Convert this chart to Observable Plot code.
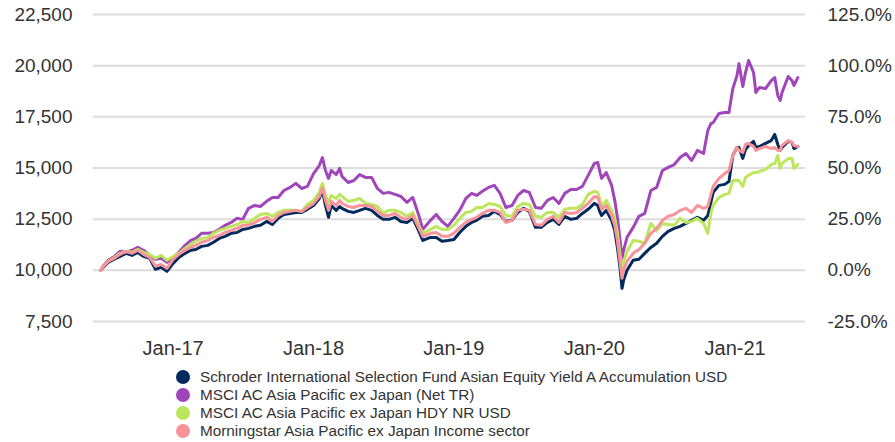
<!DOCTYPE html>
<html><head><meta charset="utf-8">
<script src="https://cdn.jsdelivr.net/npm/d3@7"></script>
<script src="https://cdn.jsdelivr.net/npm/@observablehq/plot@0.6"></script>
<style>
body{margin:0;background:#fff;font-family:"Liberation Sans",Arial,sans-serif;}
#legend{margin-left:176px;margin-top:6px;}
.item{display:flex;align-items:center;height:18px;font-size:15.3px;color:#333;white-space:nowrap;}
.sw{width:14px;height:14px;border-radius:50%;margin-right:10px;flex:none;}
</style></head><body>
<div id="chart"></div><div id="legend"></div>
<script>
const dates = [
"2016-06-27","2016-07-01","2016-07-16","2016-08-01","2016-08-16","2016-09-01","2016-09-16","2016-10-01","2016-10-16","2016-11-01",
"2016-11-16","2016-12-01","2016-12-16","2017-01-01","2017-01-16","2017-02-01","2017-02-16","2017-03-01","2017-03-16","2017-04-01",
"2017-04-16","2017-05-01","2017-05-16","2017-06-01","2017-06-16","2017-07-01","2017-07-16","2017-08-01","2017-08-16","2017-09-01",
"2017-09-16","2017-10-01","2017-10-16","2017-11-01","2017-11-16","2017-12-01","2017-12-16","2018-01-01","2018-01-16","2018-01-24",
"2018-02-01","2018-02-09","2018-02-16","2018-03-01","2018-03-10","2018-03-16","2018-04-01","2018-04-16","2018-05-01","2018-05-16",
"2018-06-01","2018-06-16","2018-07-01","2018-07-16","2018-08-01","2018-08-16","2018-09-01","2018-09-16","2018-10-01","2018-10-12",
"2018-11-01","2018-11-16","2018-12-01","2018-12-16","2019-01-01","2019-01-16","2019-02-01","2019-02-16","2019-03-01","2019-03-16",
"2019-04-01","2019-04-16","2019-05-01","2019-05-16","2019-06-01","2019-06-16","2019-07-01","2019-07-16","2019-08-01","2019-08-16",
"2019-09-01","2019-09-16","2019-10-01","2019-10-16","2019-11-01","2019-11-16","2019-12-01","2019-12-16","2020-01-01","2020-01-10",
"2020-01-16","2020-01-20","2020-02-01","2020-02-15","2020-02-23","2020-03-01","2020-03-08","2020-03-13","2020-03-17","2020-03-26",
"2020-04-11","2020-04-26","2020-05-11","2020-05-27","2020-06-11","2020-06-26","2020-07-11","2020-07-27","2020-08-11","2020-08-26",
"2020-09-10","2020-09-25","2020-10-11","2020-10-22","2020-10-30","2020-11-05","2020-11-20","2020-12-05","2020-12-16","2020-12-26",
"2021-01-06","2021-01-11","2021-01-21","2021-01-28","2021-02-05","2021-02-18","2021-02-24","2021-03-05","2021-03-21","2021-04-05",
"2021-04-14","2021-04-22","2021-04-28","2021-05-03","2021-05-19","2021-05-29","2021-06-03","2021-06-13"
];
const fund = [
10000,10100,10390,10540,10680,10830,10730,10880,10680,10590,
10050,10150,9950,10340,10630,10830,10980,11020,11170,11220,
11370,11560,11660,11810,11850,12000,12050,12150,12200,12390,
12240,12540,12730,12780,12830,12830,12980,13170,13510,13900,
13170,12590,13170,12930,13120,13030,12880,12830,12930,13030,
12930,12680,12490,12490,12590,12390,12340,12540,11950,11460,
11610,11610,11420,11460,11510,11850,12150,12340,12440,12640,
12680,12880,12730,12390,12440,12830,13030,12880,12100,12100,
12340,12490,12240,12640,12490,12540,12780,12980,13270,13170,
12830,12680,12930,12440,11950,11120,10100,9120,9510,10000,
10490,10540,10830,11120,11320,11660,11900,12050,12150,12290,
12440,12590,12440,12680,13320,13810,14150,14200,14340,15610,
16000,16000,15470,15900,16100,16300,16000,16050,16200,16340,
16640,16150,15860,16000,16300,16250,15950,16050
];
const msciNetTR = [
10000,10150,10490,10680,10930,10880,10980,11120,10980,10730,
10540,10590,10390,10630,10880,11220,11460,11560,11810,11810,
11850,12000,12200,12340,12540,12490,13030,13170,13120,13370,
13560,13560,13900,14050,14250,14000,14100,14730,15120,15510,
14880,14490,14880,14680,14980,14590,14290,14390,14680,14540,
14540,14000,13760,13810,13710,13610,13320,13560,12730,12000,
12440,12730,12390,12150,12540,12930,13510,13760,13660,13860,
14050,14150,13760,13070,13170,13660,13900,13810,13070,13030,
13420,13560,13270,13760,13950,13950,14100,14640,15220,15270,
14780,14490,14780,14150,13420,12590,11460,10590,10980,11610,
12100,12640,12780,13900,14050,14880,15030,15170,15510,15710,
15370,15860,15710,16830,17170,17220,17660,17710,17710,18880,
19520,20100,18980,19660,20250,19660,18690,18930,18880,19270,
19420,18540,18300,18690,19470,19270,19030,19420
];
const msciHdy = [
10000,10150,10440,10630,10830,10930,10880,11020,10880,10780,
10590,10730,10490,10680,10830,11070,11270,11420,11560,11610,
11810,11950,12050,12150,12240,12390,12340,12540,12730,12780,
12640,12830,12930,12930,12930,12880,13220,13420,13810,14250,
13660,13320,13660,13510,13710,13610,13370,13420,13510,13270,
13220,13120,12780,12930,12930,12830,12640,12830,12200,11810,
12000,12150,12000,12000,12200,12540,12830,12880,13070,13070,
13270,13220,13120,12680,12640,13120,13270,13220,12640,12590,
12830,12830,12590,12980,13030,13030,13220,13710,13860,13810,
13420,13120,13420,12930,12540,11850,10730,10100,10390,10930,
11460,11420,11320,12290,11950,12290,12240,12200,12540,12340,
12390,12540,12290,11810,12780,13170,13560,13710,13760,14390,
14390,14390,14100,14540,14640,14780,14780,14830,14930,15170,
15220,15610,14980,15220,15460,15460,14980,15170
];
const sector = [
10000,10150,10440,10590,10780,10930,10830,10980,10780,10630,
10200,10290,10100,10540,10780,10980,11120,11220,11370,11460,
11610,11710,11850,11950,12050,12200,12200,12340,12490,12590,
12390,12680,12830,12880,12930,12880,13070,13270,13610,14050,
13420,12930,13370,13170,13420,13270,13120,13070,13170,13170,
13120,12880,12680,12680,12780,12590,12490,12680,12100,11660,
11810,11850,11660,11660,11810,12100,12340,12490,12590,12780,
12930,12930,12830,12340,12440,12930,12980,12930,12240,12200,
12490,12640,12340,12830,12780,12830,13030,13270,13610,13560,
13220,12980,13170,12680,12200,11460,10390,9610,10000,10440,
10830,11020,11320,11810,12050,12440,12640,12730,12930,13030,
12830,13170,13030,13120,13710,14100,14490,14730,14880,15610,
16000,15860,15760,16150,16200,16050,15860,15950,16050,15950,
16000,15860,15860,16100,16340,16250,16100,16050
];
const seriesNames = [
"Schroder International Selection Fund Asian Equity Yield A Accumulation USD",
"MSCI AC Asia Pacific ex Japan (Net TR)",
"MSCI AC Asia Pacific ex Japan HDY NR USD",
"Morningstar Asia Pacific ex Japan Income sector"
];
const seriesColors = ["#032a5c","#a146ba","#bce65c","#f8939a"];
const yTicks = [7500,10000,12500,15000,17500,20000,22500];
const xTicks = ["2017-01-01","2018-01-01","2019-01-01","2020-01-01","2021-01-01"];

const allSeries = [fund, msciNetTR, msciHdy, sector];
const rows = [];
allSeries.forEach((arr, i) => {
  const n = Math.min(arr.length, dates.length);
  for (let j = 0; j < n; j++) rows.push({date: new Date(dates[j]), value: arr[j], series: seriesNames[i]});
});

const chart = Plot.plot({
  width: 895, height: 362,
  marginLeft: 93, marginRight: 90, marginTop: 14, marginBottom: 41,
  style: {fontFamily: "'Liberation Sans', Arial, sans-serif", fontSize: "19px", color: "#333", background: "#fff"},
  x: {type: "utc", domain: [new Date("2016-06-08"), new Date("2021-07-03")]},
  y: {domain: [7500, 22500]},
  color: {domain: seriesNames, range: seriesColors},
  marks: [
    Plot.gridY(yTicks, {stroke: "#dcdcdc", strokeOpacity: 1, strokeWidth: 2}),
    Plot.axisY(yTicks, {anchor: "left", tickSize: 0, tickPadding: 21, tickFormat: d3.format(","), label: null}),
    Plot.axisY(yTicks, {anchor: "right", tickSize: 0, tickPadding: 22, tickFormat: d => ((d - 10000) / 100).toFixed(1) + "%", label: null}),
    Plot.axisX(xTicks.map(d => new Date(d)), {tickSize: 0, tickPadding: 19, fontSize: 20, tickFormat: d3.utcFormat("%b-%y"), label: null}),
    Plot.line(rows, {x: "date", y: "value", z: "series", stroke: "series", strokeWidth: 3, curve: "linear"})
  ]
});
document.getElementById("chart").appendChild(chart);

const legend = document.getElementById("legend");
seriesNames.forEach((name, i) => {
  const item = document.createElement("div");
  item.className = "item";
  const sw = document.createElement("span");
  sw.className = "sw";
  sw.style.background = seriesColors[i];
  const t = document.createElement("span");
  t.textContent = name;
  item.appendChild(sw); item.appendChild(t);
  legend.appendChild(item);
});
</script>
</body></html>
